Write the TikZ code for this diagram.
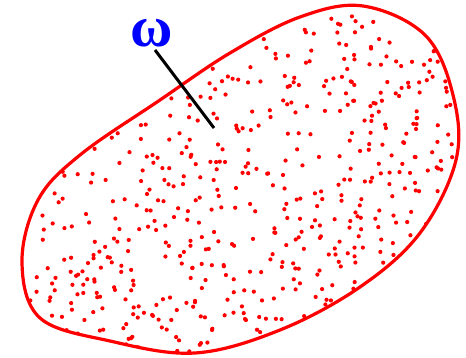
\documentclass[tikz,border=0pt]{standalone}
\usepackage{fontspec}
\usepackage{tikz}
\usetikzlibrary{calc}
\newfontfamily\omegafont{Liberation Serif}
\definecolor{dotred}{rgb}{1,0,0}
\definecolor{labelblue}{rgb}{0,0,1}

\begin{document}
\begin{tikzpicture}[x=1pt,y=-1pt]
        \useasboundingbox (0,0) rectangle (466,358);
        \def\rdot{2.1}
        \pgfmathsetseed{4711}
        \coordinate (stem) at (155,50);
        \coordinate (tip) at (214,128);
        %Boundary
        \def\blob{plot[smooth cycle,tension=0.6] coordinates{
            (22,262) (40,318) (110,341) (195,353) (280,330)
            (360,287) (420,233) (456,160) (453,95) (425,35)
            (363,6) (300,17) (230,53) (160,100) (80,155) (38,200)}}
        %Dots
        \begin{scope}
          \clip \blob;
          \foreach \i in {1,...,740}{
            \pgfmathsetmacro{\px}{20+rnd*442}
            \pgfmathsetmacro{\py}{4+rnd*350}
            \fill[dotred] (\px,\py) circle(\rdot);
          }
        \end{scope}
        \draw[dotred,line width=3.2pt] \blob;
        %Label
        \node[text=labelblue,inner sep=1pt,font=\omegafont\bfseries\fontsize{58}{58}\selectfont] (omega) at (152,33) {ω};
        \draw[black,line width=3pt] (stem) -- (tip);
      \end{tikzpicture}
\end{document}
